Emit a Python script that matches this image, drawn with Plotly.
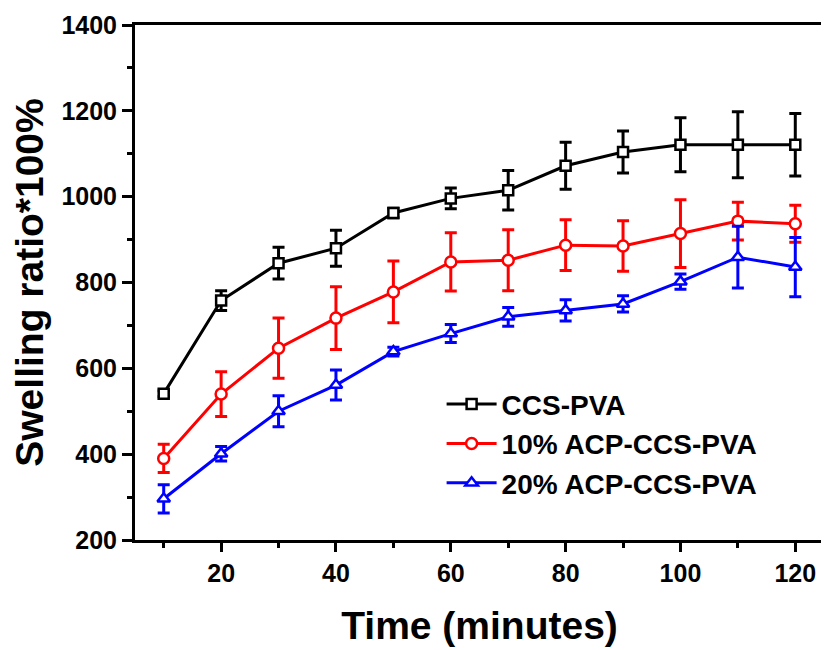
import plotly.graph_objects as go

time_min = [10, 20, 30, 40, 50, 60, 70, 80, 90, 100, 110, 120]

ccs_pva = [541, 758, 845, 880, 962, 996, 1015, 1072, 1104, 1121, 1121, 1121]
ccs_pva_err = [7, 23, 37, 42, 11, 24, 46, 55, 49, 63, 77, 73]

acp10 = [390, 540, 647, 717, 778, 848, 852, 887, 885, 914, 943, 937]
acp10_err = [33, 52, 70, 73, 72, 68, 71, 59, 59, 79, 44, 43]

acp20 = [296, 401, 500, 561, 639, 681, 720, 735, 750, 802, 859, 836]
acp20_err = [33, 17, 36, 35, 10, 21, 22, 25, 19, 18, 72, 69]

series = [
    ("CCS-PVA", ccs_pva, ccs_pva_err, "#000000", "square", 10),
    ("10% ACP-CCS-PVA", acp10, acp10_err, "#ff0000", "circle", 11),
    ("20% ACP-CCS-PVA", acp20, acp20_err, "#0000ff", "triangle-up", 11),
]

FONT = "Arial, Liberation Sans, sans-serif"

fig = go.Figure()
for name, vals, errs, color, sym, msize in series:
    fig.add_trace(go.Scatter(
        x=time_min, y=vals, name=name, mode="lines+markers",
        line=dict(color=color, width=3),
        marker=dict(symbol=sym, size=msize, color="white",
                    line=dict(color=color, width=2.5)),
        error_y=dict(type="data", array=errs, visible=True,
                     color=color, thickness=3, width=6),
    ))

# page body has an 8px default margin, so the figure is sized/offset to fit
fig.update_layout(
    width=821, height=642,
    margin=dict(l=127, r=2.3, t=17, b=110),
    plot_bgcolor="white", paper_bgcolor="white",
    font=dict(family=FONT, color="black"),
    showlegend=True,
    legend=dict(
        x=0.445, y=0.312, xanchor="left", yanchor="top",
        bgcolor="rgba(0,0,0,0)",
        font=dict(family=FONT, size=28, color="black", weight="bold"),
        tracegroupgap=0, itemwidth=50,
    ),
)

fig.update_xaxes(
    range=[5, 125],
    tickmode="array", tickvals=[20, 40, 60, 80, 100, 120],
    ticks="outside", ticklen=9, tickwidth=3, tickcolor="black",
    minor=dict(tickvals=[10, 30, 50, 70, 90, 110], ticks="outside",
               ticklen=5, tickwidth=3, tickcolor="black"),
    showline=True, linewidth=3, linecolor="black", mirror=True,
    showgrid=False, zeroline=False,
    tickfont=dict(family=FONT, size=25, color="black", weight="bold"),
    title=dict(text="Time (minutes)", standoff=26,
               font=dict(family=FONT, size=39, color="black", weight="bold")),
)

fig.update_yaxes(
    range=[200, 1400],
    tickmode="array", tickvals=[200, 400, 600, 800, 1000, 1200, 1400],
    ticks="outside", ticklen=10, tickwidth=3, tickcolor="black",
    minor=dict(tickvals=[300, 500, 700, 900, 1100, 1300], ticks="outside",
               ticklen=5, tickwidth=3, tickcolor="black"),
    showline=True, linewidth=3, linecolor="black", mirror=True,
    showgrid=False, zeroline=False,
    tickfont=dict(family=FONT, size=25, color="black", weight="bold"),
    title=dict(text="Swelling ratio*100%", standoff=6,
               font=dict(family=FONT, size=39, color="black", weight="bold")),
)

fig.write_html("out.html")
